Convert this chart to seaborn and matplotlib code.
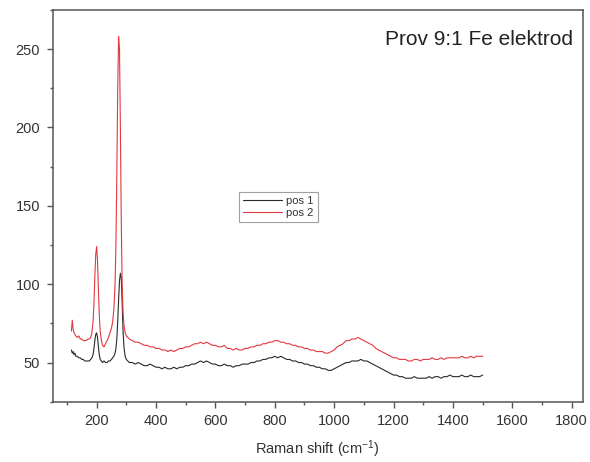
import matplotlib
matplotlib.use("Agg")
import matplotlib.pyplot as plt
from matplotlib.ticker import MultipleLocator
import seaborn as sns
import pandas as pd

# ---- data ----
raman_shift = [
    115, 118, 121, 124, 127, 130, 135, 140, 145, 150, 155, 160, 165, 170, 175, 180,
    184, 188, 191, 194, 197, 200, 203, 206, 209, 212, 216, 220, 225, 230, 235, 240, 245, 250,
    254, 258, 262, 265, 268, 271, 274, 277, 280, 283, 286, 289, 292, 296, 300,
    305, 310,
    320, 330, 340, 350, 360, 370, 380, 390, 400,
    410, 420, 430, 440, 450, 460, 470, 480, 490, 500,
    510, 520, 530, 540, 550, 560, 570, 580, 590, 600,
    610, 620, 630, 640, 650, 660, 670, 680, 690, 700,
    710, 720, 730, 740, 750, 760, 770, 780, 790, 800,
    810, 820, 830, 840, 850, 860, 870, 880, 890, 900,
    910, 920, 930, 940, 950, 960, 970, 980, 990, 1000,
    1010, 1020, 1030, 1040, 1050, 1060, 1070, 1080, 1090, 1100,
    1110, 1120, 1130, 1140, 1150, 1160, 1170, 1180, 1190, 1200,
    1210, 1220, 1230, 1240, 1250, 1260, 1270, 1280, 1290, 1300,
    1310, 1320, 1330, 1340, 1350, 1360, 1370, 1380, 1390, 1400,
    1410, 1420, 1430, 1440, 1450, 1460, 1470, 1480, 1490, 1500,
]

pos1 = [
    58, 56, 57, 55, 56, 54, 54, 53, 53, 52, 52, 51, 51, 51, 51, 52,
    53, 55, 59, 64, 68, 69, 66, 60, 55, 52, 51, 50, 51, 50, 50, 51, 51, 52,
    53, 54, 56, 59, 65, 76, 90, 102, 107, 104, 88, 70, 60, 54, 52,
    51, 50,
    50, 49, 50, 49, 48, 48, 49, 48, 47,
    47, 46, 47, 46, 46, 47, 46, 47, 47, 48,
    48, 49, 49, 50, 51, 50, 51, 50, 49, 49,
    48, 48, 49, 48, 48, 47, 48, 48, 49, 49,
    49, 50, 50, 51, 51, 52, 52, 53, 53, 54,
    53, 54, 53, 52, 52, 51, 51, 50, 50, 49,
    49, 48, 48, 47, 47, 46, 46, 45, 45, 46,
    47, 48, 49, 50, 50, 51, 51, 51, 52, 51,
    51, 50, 49, 48, 47, 46, 45, 44, 43, 42,
    42, 41, 41, 40, 40, 40, 41, 40, 40, 40,
    40, 41, 40, 41, 41, 40, 41, 41, 42, 41,
    41, 41, 42, 41, 41, 42, 41, 41, 41, 42,
]

pos2 = [
    70, 77, 71, 69, 68, 67, 66, 67, 65, 65, 64, 64, 64, 65, 65, 66,
    69, 76, 88, 105, 119, 124, 115, 96, 80, 70, 64, 61, 60, 62, 64, 66, 69, 72,
    76, 84, 100, 125, 170, 225, 258, 250, 200, 140, 100, 82, 74, 69, 67,
    66, 65,
    64, 63, 63, 62, 61, 61, 60, 60, 59,
    59, 58, 58, 57, 58, 57, 58, 59, 59, 60,
    60, 61, 62, 62, 63, 62, 63, 62, 61, 61,
    60, 60, 61, 59, 59, 58, 59, 58, 58, 59,
    59, 60, 60, 61, 61, 62, 62, 63, 63, 64,
    64, 63, 63, 62, 62, 61, 61, 60, 60, 59,
    59, 58, 58, 57, 57, 57, 56, 56, 57, 58,
    60, 61, 62, 64, 64, 65, 65, 66, 65, 64,
    63, 62, 61, 59, 58, 57, 56, 55, 54, 53,
    53, 52, 52, 52, 51, 51, 52, 52, 51, 52,
    52, 52, 53, 52, 52, 53, 52, 53, 53, 53,
    53, 53, 54, 53, 53, 54, 53, 54, 54, 54,
]

series_names = ["pos 1", "pos 2"]
series_colors = ["#2a2a2a", "#e2383f"]
title_text = "Prov 9:1 Fe elektrod"
x_label = "Raman shift (cm$^{-1}$)"

df = pd.concat([
    pd.DataFrame({"x": raman_shift, "y": pos1, "series": series_names[0]}),
    pd.DataFrame({"x": raman_shift, "y": pos2, "series": series_names[1]}),
], ignore_index=True)

sns.set_theme(style="ticks")
plt.rcParams["font.family"] = ["Liberation Sans", "DejaVu Sans"]
plt.rcParams["mathtext.fontset"] = "custom"
plt.rcParams["mathtext.rm"] = "Liberation Sans"
plt.rcParams["mathtext.it"] = "Liberation Sans"

fig = plt.figure(figsize=(5.9, 4.62), dpi=100)
ax = fig.add_axes([0.0893, 0.1305, 0.8983, 0.8479])

sns.lineplot(data=df, x="x", y="y", hue="series", hue_order=series_names,
             palette=series_colors, linewidth=0.8, ax=ax, estimator=None,
             sort=False)

ax.set_xlim(52, 1837)
ax.set_ylim(25, 275)
ax.xaxis.set_major_locator(MultipleLocator(200))
ax.xaxis.set_minor_locator(MultipleLocator(100))
ax.yaxis.set_major_locator(MultipleLocator(50))
ax.yaxis.set_minor_locator(MultipleLocator(25))

for s in ax.spines.values():
    s.set_visible(True)
    s.set_color("#555555")
    s.set_linewidth(1.1)

ax.tick_params(which="major", direction="out", length=4, width=1.0,
               color="#555555", labelsize=10.5, labelcolor="#333333", pad=5)
ax.tick_params(which="minor", direction="out", length=2.5, width=1.0,
               color="#555555")
ax.tick_params(top=False, right=False, which="both")

ax.set_xlabel(x_label, fontsize=10.5, color="#333333", labelpad=7)
ax.set_ylabel("")

ax.text(0.627, 0.911, title_text, transform=ax.transAxes, fontsize=15,
        color="#222222", ha="left", va="baseline")

leg = ax.legend(loc="upper left", bbox_to_anchor=(0.352, 0.536), fontsize=8,
                frameon=True, fancybox=False, handlelength=3.5,
                handletextpad=0.4, borderpad=0.35, labelspacing=0.2,
                borderaxespad=0)
leg.get_frame().set_edgecolor("#888888")
leg.get_frame().set_linewidth(0.8)
for t in leg.get_texts():
    t.set_color("#333333")

fig.savefig("out.png", dpi=100)
